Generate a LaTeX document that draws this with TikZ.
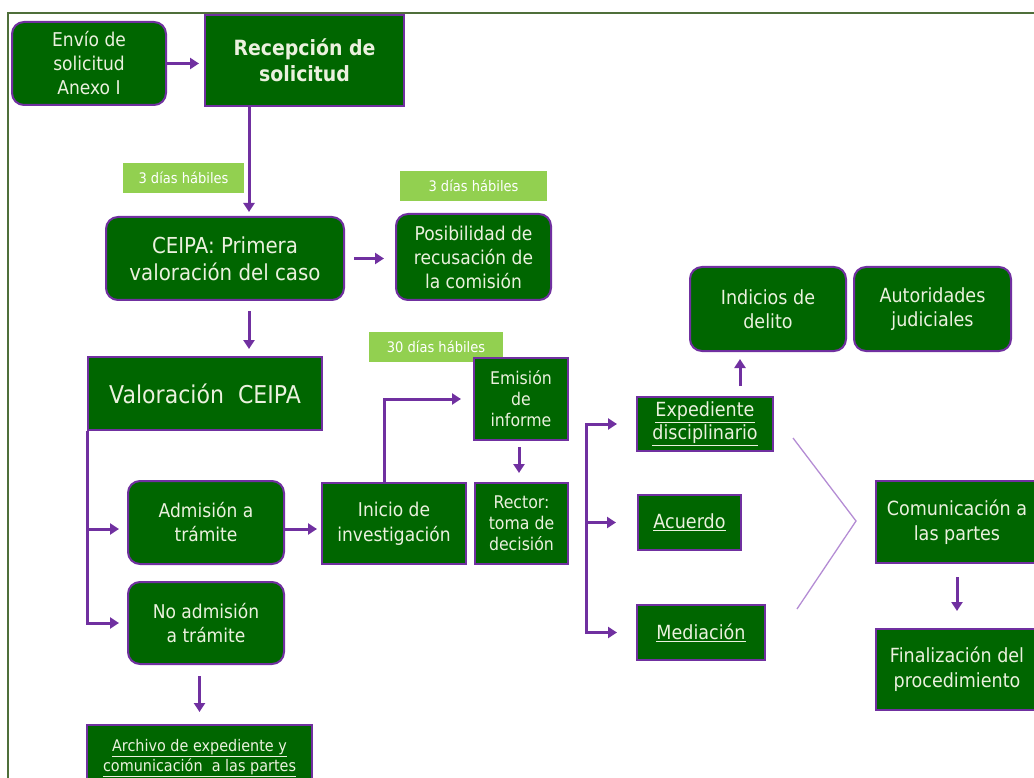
\documentclass[tikz,border=0pt]{standalone}
\usepackage{fontspec}
\setmainfont[FakeStretch=0.9]{DejaVu Sans}
\usepackage{tikz}
\usetikzlibrary{arrows.meta}
\usepackage{xcolor}

\definecolor{boxgreen}{RGB}{0,102,0}
\definecolor{boxpurple}{RGB}{112,48,160}
\definecolor{lightgreen}{RGB}{146,208,80}
\definecolor{boxtext}{RGB}{235,241,222}
\definecolor{framegreen}{RGB}{79,111,58}
\definecolor{chevron}{RGB}{180,140,212}
\newcommand{\fsz}[2]{\fontsize{#1}{#2}\selectfont}

\tikzset{
  box/.style={draw=boxpurple, line width=2pt, fill=boxgreen, text=boxtext,
    align=center, inner sep=2pt},
  rbox/.style={box, rounded corners=12},
  dias/.style={fill=lightgreen, text=white, inner sep=0pt, font=\fsz{14.5}{17}},
  arr/.style={draw=boxpurple, line width=3pt,
    -{Triangle[length=9pt,width=11pt]}}
}

\begin{document}
\begin{tikzpicture}[x=1pt,y=-1pt]
\useasboundingbox (0,0) rectangle (1034,778);
% frame
\draw[framegreen, line width=2.5pt] (8,778) -- (8,13) -- (1040,13);

% plazos
\node[dias, minimum width=121, minimum height=30] (d1) at (183.5,178) {3 días hábiles};
\node[dias, minimum width=147, minimum height=30] (d2) at (473.5,186) {3 días hábiles};
\node[dias, minimum width=134, minimum height=30] (d3) at (436,347) {30 días hábiles};

% nodes
\node[rbox, minimum width=154, minimum height=83, font=\fsz{19}{24}] (env) at (89,63.5) {Envío de\\solicitud\\Anexo I};
\node[box, minimum width=199, minimum height=91, font=\fsz{21}{26}\bfseries] (rec) at (304.5,60.5) {Recepción de\\solicitud};
\node[rbox, minimum width=238, minimum height=83, font=\fsz{22}{27}] (cei) at (225,258.5) {CEIPA: Primera\\valoración del caso};
\node[rbox, minimum width=155, minimum height=86, font=\fsz{19}{24}] (pos) at (473.5,257) {Posibilidad de\\recusación de\\la comisión};
\node[box, minimum width=234, minimum height=73, font=\fsz{24.5}{29}] (val) at (205,393.5) {Valoración\ \ CEIPA};
\node[rbox, minimum width=156, minimum height=83, font=\fsz{19}{24}] (adm) at (206,522.5) {Admisión a\\trámite};
\node[rbox, minimum width=156, minimum height=82, font=\fsz{19}{24}] (noadm) at (206,623) {No admisión\\a trámite};
\node[box, minimum width=225, minimum height=66, font=\fsz{16}{20}] (arc) at (199.5,758) {\underline{Archivo de expediente y}\\\underline{comunicación\ \ a las partes}};
\node[box, minimum width=144, minimum height=81, font=\fsz{19}{25}] (ini) at (394,523.5) {Inicio de\\investigación};
\node[box, minimum width=94, minimum height=82, font=\fsz{17.5}{21}] (emi) at (521,399) {Emisión\\de\\informe};
\node[box, minimum width=93, minimum height=81, font=\fsz{17.5}{21}] (rct) at (521.5,523.5) {Rector:\\toma de\\decisión};
\node[box, minimum width=136, minimum height=54, font=\fsz{19.5}{23}] (exp) at (705,424) {\underline{Expediente}\\\underline{disciplinario}};
\node[box, minimum width=103, minimum height=55, font=\fsz{19.5}{23}] (acu) at (689.5,522.5) {\underline{Acuerdo}};
\node[box, minimum width=128, minimum height=55, font=\fsz{19.5}{23}] (med) at (701,632.5) {\underline{Mediación}};
\node[rbox, minimum width=156, minimum height=84, font=\fsz{19.5}{24}] (ind) at (768,309) {Indicios de\\delito};
\node[rbox, minimum width=157, minimum height=84, font=\fsz{19.5}{24}] (aut) at (932.5,309) {Autoridades\\judiciales};
\node[box, minimum width=162, minimum height=82, font=\fsz{19.5}{25}] (com) at (957,522) {Comunicación a\\las partes};
\node[box, minimum width=162, minimum height=81, font=\fsz{19.5}{25}] (fin) at (957,669.5) {Finalización del\\procedimiento};

\coordinate (fork) at (586,522.5);

% connectors
\draw[arr, shorten >=5] (env.east) -- (env.east -| rec.west);
\draw[arr, shorten >=4] ([xshift=-55.5]rec.south) -- ([xshift=24]cei.north);
\draw[arr, shorten <=9, shorten >=11] (cei.east) -- (cei.east -| pos.west);
\draw[arr, shorten <=10, shorten >=7] ([xshift=24]cei.south) -- ([xshift=44]val.north);
\draw[arr, shorten >=8] (val.south west) |- ([yshift=-6.5]adm.west);
\draw[arr, shorten >=8] (val.south west) |- (noadm.west);
\draw[arr, shorten <=11, shorten >=12] ([xshift=-6.5]noadm.south) -- (arc.north);
\draw[arr, shorten >=4] ([yshift=-6.5]adm.east) -- ([yshift=-5.5]ini.west);
\draw[arr, shorten >=12] ([xshift=-10]ini.north) |- (emi.west);
\draw[arr, shorten <=6, shorten >=9] ([xshift=-2]emi.south) -- ([xshift=-2.5]rct.north);
\draw[arr, shorten >=19] (fork) |- (exp.west);
\draw[arr, shorten >=21] (fork) -- (acu.west);
\draw[arr, shorten >=19] (fork) |- (med.west);
\draw[arr, shorten <=10, shorten >=7] ([xshift=35]exp.north) -- ([xshift=-28]ind.south);
\draw[arr, shorten <=13, shorten >=17] (com.south) -- (fin.north);

% chevron
\draw[chevron, line width=1.3pt] (793,438) -- (856,521) -- (797,609);
\end{tikzpicture}
\end{document}
